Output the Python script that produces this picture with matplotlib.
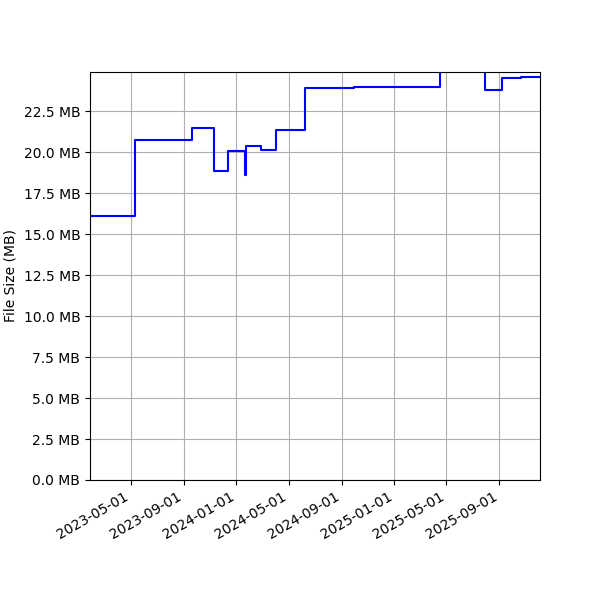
import matplotlib
matplotlib.use("Agg")
import matplotlib.pyplot as plt
import matplotlib.dates as mdates
from matplotlib.ticker import FuncFormatter, MultipleLocator
import pandas as pd

dates = ["2023-01-27", "2023-05-11", "2023-09-20", "2023-11-09", "2023-12-13",
         "2024-01-22", "2024-01-23", "2024-02-27", "2024-04-01", "2024-06-07",
         "2024-09-29", "2025-04-17", "2025-07-29", "2025-09-08", "2025-10-20",
         "2025-12-04"]
sizes_mb = [16.10, 20.73, 21.48, 18.86, 20.08,
            18.64, 20.38, 20.12, 21.36, 23.94,
            23.96, 26.00, 23.78, 24.55, 24.57,
            24.57]

x = pd.to_datetime(dates)

fig, ax = plt.subplots(figsize=(6, 6), dpi=100)
fig.subplots_adjust(left=0.15, right=0.9, top=0.88)
ax.plot(x, sizes_mb, color="blue", linewidth=1.5, drawstyle="steps-post")
ax.set_xlim(x[0], x[-1])
ax.set_ylim(0, 24.9)
ax.yaxis.set_major_locator(MultipleLocator(2.5))
ax.yaxis.set_major_formatter(FuncFormatter(lambda v, p: f"{v:.1f} MB"))
ax.xaxis.set_major_locator(mdates.MonthLocator(bymonth=[1, 5, 9]))
ax.xaxis.set_major_formatter(mdates.DateFormatter("%Y-%m-%d"))
ax.set_ylabel("File Size (MB)")
ax.grid(True)
fig.autofmt_xdate()
fig.savefig("out.png")
